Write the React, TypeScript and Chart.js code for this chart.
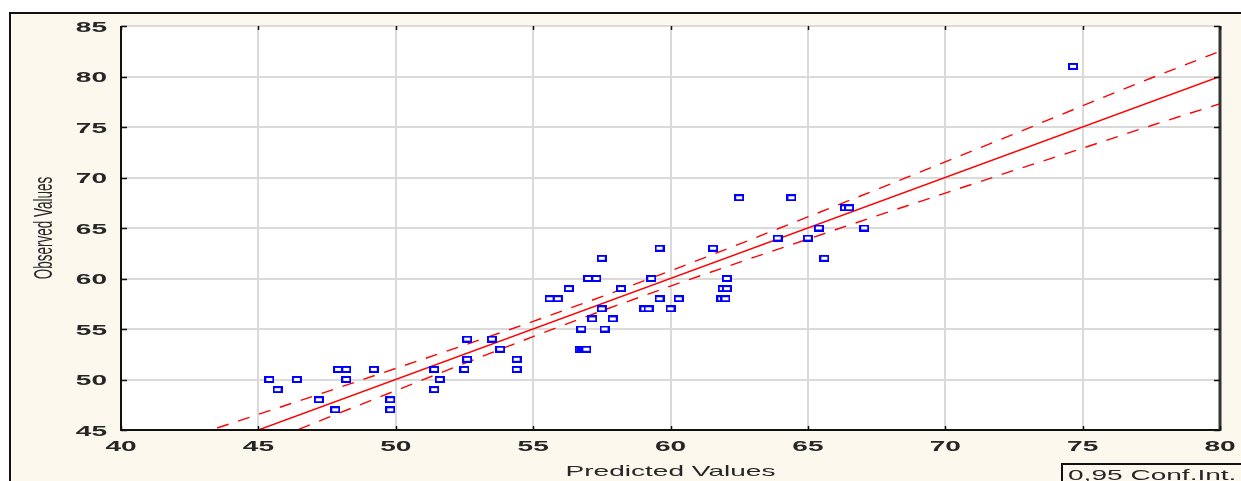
import React, { useEffect, useRef } from "react";
import { Chart, registerables } from "chart.js";

Chart.register(...registerables);

// ---- data ----
const predicted = [
  45.4, 45.7, 46.4, 47.2, 47.8, 47.9, 48.2, 48.2, 49.2, 49.8, 49.8,
  51.4, 51.6, 51.4, 52.6, 52.6, 52.5, 53.5, 53.8, 54.4, 54.4,
  55.6, 55.9, 56.3, 56.7, 56.78, 56.86, 56.94, 56.75, 57.0, 57.3, 57.15, 57.5, 57.6, 57.5, 57.9, 58.2,
  59.05, 59.2, 59.3, 59.6, 59.6, 60.0, 60.3,
  61.55, 61.85, 62.0, 61.9, 62.05, 62.05, 62.5,
  63.9, 64.4, 65.0, 65.4, 65.6, 66.35, 66.5, 67.05, 74.65,
];
const observed = [
  50, 49, 50, 48, 47, 51, 51, 50, 51, 48, 47,
  51, 50, 49, 54, 52, 51, 54, 53, 52, 51,
  58, 58, 59, 53, 53, 53, 53, 55, 60, 60, 56, 57, 55, 62, 56, 59,
  57, 57, 60, 58, 63, 57, 58,
  63, 58, 58, 59, 59, 60, 68,
  64, 68, 64, 65, 62, 67, 67, 65, 81,
];
const fitX = [45, 80];
const fitY = [45, 80];
const bandX = [43.5, 45, 47.5, 50, 52.5, 55, 57.5, 60, 62.5, 65, 67.5, 70, 72.5, 75, 77.5, 80];
const bandUpper = [45.2, 46.55, 48.8, 51.1, 53.4, 55.75, 58.2, 60.75, 63.4, 66.1, 68.8, 71.55, 74.3, 77.1, 79.85, 82.5];
const bandLower = [41.8, 43.45, 46.2, 48.9, 51.6, 54.25, 56.8, 59.25, 61.6, 63.9, 66.2, 68.45, 70.7, 72.9, 75.15, 77.3];
const xTickValues = [40, 45, 50, 55, 60, 65, 70, 75, 80];
const yTickValues = [45, 50, 55, 60, 65, 70, 75, 80, 85];
const xTitle = "Predicted Values";
const yTitle = "Observed Values";
const legendText = "0,95 Conf.Int.";

const STRETCH = 1.87;
const FONT = '"Liberation Sans", Arial, sans-serif';
const TEXT_COLOR = "#262626";

function makeMarker(): HTMLCanvasElement {
  const c = document.createElement("canvas");
  c.width = 10;
  c.height = 7;
  const g = c.getContext("2d")!;
  g.fillStyle = "#ffffff";
  g.fillRect(1, 1, 8, 5);
  g.strokeStyle = "#0000ff";
  g.lineWidth = 2;
  g.strokeRect(1, 1, 8, 5);
  return c;
}

function stretchedText(
  ctx: CanvasRenderingContext2D,
  text: string,
  x: number,
  y: number,
  align: CanvasTextAlign,
  size: number,
  weight: string = "normal"
) {
  ctx.save();
  ctx.translate(x, y);
  ctx.scale(STRETCH, 1);
  ctx.font = `${weight} ${size}px ${FONT}`;
  ctx.fillStyle = TEXT_COLOR;
  ctx.textAlign = align;
  ctx.textBaseline = "alphabetic";
  ctx.fillText(text, 0, 0);
  ctx.restore();
}

const framePlugin = {
  id: "statFrame",
  beforeDraw(chart: any) {
    const { ctx, chartArea: a } = chart;
    ctx.save();
    ctx.fillStyle = "#ffffff";
    ctx.fillRect(a.left, a.top, a.right - a.left, a.bottom - a.top);
    ctx.restore();
  },
  afterDraw(chart: any) {
    const { ctx, chartArea: a } = chart;
    const xs = chart.scales.x;
    const ys = chart.scales.y;
    ctx.save();
    ctx.strokeStyle = "#111111";
    ctx.lineWidth = 2;
    ctx.beginPath();
    ctx.moveTo(a.left, a.top);
    ctx.lineTo(a.left, a.bottom);
    ctx.lineTo(a.right, a.bottom);
    ctx.stroke();
    ctx.strokeStyle = "#333333";
    ctx.lineWidth = 3;
    ctx.beginPath();
    ctx.moveTo(a.right, a.top);
    ctx.lineTo(a.right, a.bottom + 1);
    ctx.stroke();
    ctx.strokeStyle = "#111111";
    ctx.lineWidth = 1.5;
    ctx.beginPath();
    for (const t of ys.ticks) {
      const py = Math.round(ys.getPixelForValue(t.value)) + 0.5;
      ctx.moveTo(a.left, py);
      ctx.lineTo(a.left + 6, py);
      ctx.moveTo(a.right, py);
      ctx.lineTo(a.right - 6, py);
    }
    for (const t of xs.ticks) {
      const px = Math.round(xs.getPixelForValue(t.value)) + 0.5;
      ctx.moveTo(px, a.bottom);
      ctx.lineTo(px, a.bottom - 4);
      ctx.moveTo(px, a.top);
      ctx.lineTo(px, a.top + 4);
    }
    ctx.stroke();
    ctx.restore();

    for (const t of ys.ticks) {
      const py = ys.getPixelForValue(t.value);
      stretchedText(ctx, String(t.value), a.left - 14, py + 5.5, "right", 15, "bold");
    }
    for (const t of xs.ticks) {
      const px = xs.getPixelForValue(t.value);
      stretchedText(ctx, String(t.value), px, a.bottom + 21, "center", 15, "bold");
    }
    stretchedText(ctx, xTitle, (a.left + a.right) / 2, 476, "center", 15);
    ctx.save();
    ctx.translate(51.5, (a.top + a.bottom) / 2);
    ctx.rotate(-Math.PI / 2);
    ctx.scale(1, STRETCH);
    ctx.font = `13.5px ${FONT}`;
    ctx.fillStyle = TEXT_COLOR;
    ctx.textAlign = "center";
    ctx.textBaseline = "alphabetic";
    ctx.fillText(yTitle, 0, 0);
    ctx.restore();
    ctx.save();
    ctx.strokeStyle = "#111111";
    ctx.lineWidth = 2;
    ctx.strokeRect(1062, 464, 300, 60);
    ctx.restore();
    stretchedText(ctx, legendText, 1068, 480, "left", 15);
  },
};

export default function App() {
  const ref = useRef<HTMLCanvasElement | null>(null);

  useEffect(() => {
    if (!ref.current) return;
    const marker = makeMarker();
    const pts = predicted.map((x, i) => ({ x, y: observed[i] }));
    const fit = fitX.map((x, i) => ({ x, y: fitY[i] }));
    const up = bandX.map((x, i) => ({ x, y: bandUpper[i] }));
    const lo = bandX.map((x, i) => ({ x, y: bandLower[i] }));
    const chart = new Chart(ref.current, {
      type: "scatter",
      data: {
        datasets: [
          {
            label: "Observed",
            data: pts,
            pointStyle: marker as any,
            pointRadius: 5,
            showLine: false,
            order: 0,
          },
          {
            label: "Fit",
            data: fit,
            showLine: true,
            borderColor: "#ff0000",
            borderWidth: 1.4,
            pointRadius: 0,
            order: 1,
          },
          {
            label: "Upper",
            data: up,
            showLine: true,
            borderColor: "#ff0000",
            borderWidth: 1.4,
            borderDash: [12, 10],
            pointRadius: 0,
            order: 1,
          },
          {
            label: "Lower",
            data: lo,
            showLine: true,
            borderColor: "#ff0000",
            borderWidth: 1.4,
            borderDash: [12, 10],
            pointRadius: 0,
            order: 1,
          },
        ],
      },
      options: {
        responsive: false,
        maintainAspectRatio: false,
        animation: false,
        devicePixelRatio: 1,
        layout: { padding: { left: 121, right: 21, top: 26, bottom: 51 } },
        plugins: { legend: { display: false }, tooltip: { enabled: false } },
        scales: {
          x: {
            type: "linear",
            min: 40,
            max: 80,
            afterBuildTicks: (s: any) => {
              s.ticks = xTickValues.map((v) => ({ value: v }));
            },
            ticks: { display: false },
            grid: { color: "#dadada", lineWidth: 2, drawTicks: false },
            border: { display: false },
          },
          y: {
            type: "linear",
            min: 45,
            max: 85,
            afterBuildTicks: (s: any) => {
              s.ticks = yTickValues.map((v) => ({ value: v }));
            },
            ticks: { display: false },
            grid: { color: "#dadada", lineWidth: 2, drawTicks: false },
            border: { display: false },
          },
        },
      },
      plugins: [framePlugin],
    });
    return () => chart.destroy();
  }, []);

  return (
    <div
      style={{
        position: "fixed",
        left: 0,
        top: 0,
        width: 1241,
        height: 481,
        overflow: "hidden",
        background: "#ffffff",
      }}
    >
      <div
        style={{
          position: "absolute",
          left: 9,
          top: 12,
          width: 1300,
          height: 600,
          border: "2px solid #111",
          background: "#fdf8ee",
        }}
      />
      <canvas
        ref={ref}
        width={1241}
        height={481}
        style={{ position: "absolute", left: 0, top: 0, width: 1241, height: 481 }}
      />
    </div>
  );
}
